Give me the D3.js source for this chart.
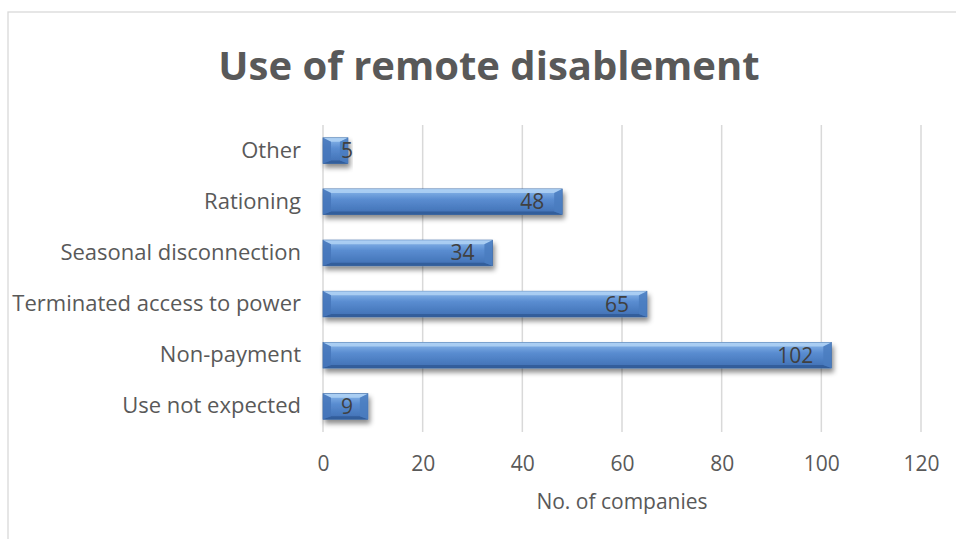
<!DOCTYPE html>
<html>
<head>
<meta charset="utf-8">
<script src="https://cdn.jsdelivr.net/npm/d3@7"></script>
<style>
  body { margin: 0; background: #fff; }
  text { font-family: "Open Sans", "Liberation Sans", sans-serif; fill: #595959; }
</style>
</head>
<body>
<div id="container"></div>
<script>
/* CONSTANTS AND GLOBALS */
const width = 956,
  height = 539,
  margin = { top: 125, bottom: 107, left: 323, right: 35 };

/* DATA */
const categories = ["Other", "Rationing", "Seasonal disconnection", "Terminated access to power", "Non-payment", "Use not expected"];
const companies = [5, 48, 34, 65, 102, 9];
const xTicks = [0, 20, 40, 60, 80, 100, 120];

const data = categories.map((c, i) => ({ category: c, value: companies[i] }));

/* SCALES */
const xScale = d3.scaleLinear()
  .domain([0, 120])
  .range([margin.left, width - margin.right]);

const yScale = d3.scaleBand()
  .domain(categories)
  .range([margin.top, height - margin.bottom])
  .paddingInner(0.5)
  .paddingOuter(0.25);

/* HTML ELEMENTS */
const svg = d3.select("#container")
  .append("svg")
  .attr("width", width)
  .attr("height", height);

const defs = svg.append("defs");

const grad = defs.append("linearGradient")
  .attr("id", "barGrad")
  .attr("x1", 0).attr("y1", 0).attr("x2", 0).attr("y2", 1);
grad.append("stop").attr("offset", "0%").attr("stop-color", "#8dbaec");
grad.append("stop").attr("offset", "40%").attr("stop-color", "#5a8dd1");
grad.append("stop").attr("offset", "100%").attr("stop-color", "#3f6fb3");

const shadow = defs.append("filter")
  .attr("id", "shadow")
  .attr("x", "-10%").attr("y", "-30%").attr("width", "130%").attr("height", "190%");
shadow.append("feDropShadow")
  .attr("dx", 2).attr("dy", 4)
  .attr("stdDeviation", 2.5)
  .attr("flood-color", "#000")
  .attr("flood-opacity", 0.45);

// chart border
svg.append("rect")
  .attr("x", 8).attr("y", 12)
  .attr("width", width + 10).attr("height", height + 10)
  .attr("fill", "none")
  .attr("stroke", "#d9d9d9")
  .attr("stroke-width", 1.3);

// title
svg.append("text")
  .attr("x", 489)
  .attr("y", 80)
  .attr("text-anchor", "middle")
  .style("font-size", "40px")
  .style("font-weight", "bold")
  .text("Use of remote disablement");

// gridlines
svg.append("g")
  .selectAll("line")
  .data(xTicks)
  .join("line")
  .attr("x1", d => xScale(d)).attr("x2", d => xScale(d))
  .attr("y1", margin.top).attr("y2", height - margin.bottom)
  .attr("stroke", "#d9d9d9")
  .attr("stroke-width", 1.5);

// x axis
const xAxis = d3.axisBottom(xScale).tickValues(xTicks).tickSize(0).tickPadding(24);
const gx = svg.append("g")
  .attr("transform", `translate(0,${height - margin.bottom})`)
  .call(xAxis);
gx.select(".domain").remove();
gx.selectAll("text")
  .style("font-size", "21px")
  .attr("fill", "#595959");

// y axis
const yAxis = d3.axisLeft(yScale).tickSize(0).tickPadding(22);
const gy = svg.append("g")
  .attr("transform", `translate(${margin.left},0)`)
  .call(yAxis);
gy.select(".domain").remove();
gy.selectAll("text")
  .style("font-size", "22px")
  .attr("fill", "#595959");

// axis title
svg.append("text")
  .attr("x", (xScale(0) + xScale(120)) / 2)
  .attr("y", 509)
  .attr("text-anchor", "middle")
  .style("font-size", "21px")
  .text("No. of companies");

// bars
const bars = svg.append("g")
  .selectAll("g.bar")
  .data(data)
  .join("g")
  .attr("class", "bar");

const bh = yScale.bandwidth();

bars.append("rect")
  .attr("x", xScale(0))
  .attr("y", d => yScale(d.category))
  .attr("width", d => xScale(d.value) - xScale(0))
  .attr("height", bh)
  .attr("fill", "url(#barGrad)")
  .attr("stroke", "#3d6aa5")
  .attr("stroke-width", 0.8)
  .attr("filter", "url(#shadow)");

// bevel pieces (left end is a diagonal wedge, as in the original)
const bevel = (d, side) => {
  const x0 = xScale(0), x1 = xScale(d.value), y0 = yScale(d.category), y1 = y0 + bh;
  const s = Math.min(8, (x1 - x0) / 3), t = 4, b = 3;
  if (side === "top") return `M${x0},${y0}L${x1},${y0}L${x1 - s},${y0 + t}L${x0 + s},${y0 + t}Z`;
  if (side === "bottom") return `M${x0},${y1}L${x1},${y1}L${x1 - s},${y1 - b}L${x0 + s},${y1 - b}Z`;
  if (side === "left") return `M${x0},${y0}L${x0 + s},${y0 + t}L${x0 + s},${y1 - b}L${x0},${y1}Z`;
  return `M${x1},${y0}L${x1 - s},${y0 + t}L${x1 - s},${y1 - b}L${x1},${y1}Z`;
};
const bevelFill = { top: "#b0d2f5", bottom: "#305b96", left: "#4576ba", right: "#4a7cc0" };
["top", "bottom", "left", "right"].forEach(side => {
  bars.append("path")
    .attr("d", d => bevel(d, side))
    .attr("fill", bevelFill[side])
    .attr("opacity", 0.85);
});

// data labels: inside end, but never closer than 18px to the bar start
bars.append("text")
  .attr("y", d => yScale(d.category) + bh / 2)
  .attr("dy", "0.36em")
  .attr("text-anchor", "end")
  .style("font-size", "21px")
  .style("fill", "#404040")
  .text(d => d.value)
  .attr("x", function(d) {
    const w = this.getComputedTextLength();
    return Math.max(xScale(d.value) - 18, xScale(0) + 18 + w);
  });
</script>
</body>
</html>
